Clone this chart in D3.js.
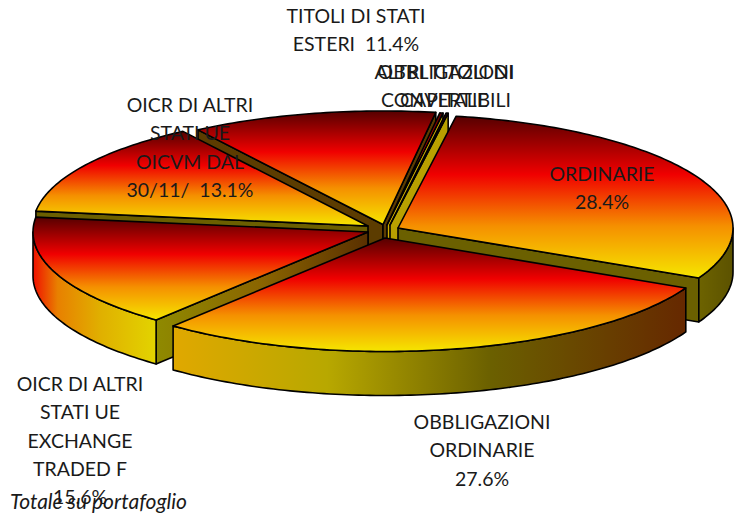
<!DOCTYPE html>
<html><head><meta charset="utf-8">
<script src="https://cdnjs.cloudflare.com/ajax/libs/d3/7.8.5/d3.min.js"></script>
<style>html,body{margin:0;background:#fff}svg{display:block}text{font-family:Lato,"Open Sans",sans-serif;fill:#1a1a1a;white-space:pre}</style>
</head><body><svg id="c" width="737" height="513"></svg>
<script>
// Data
const categories = ["AZIONI ORDINARIE","OBBLIGAZIONI ORDINARIE","OICR ETF","OICR OICVM","TITOLI DI STATI ESTERI","OBBLIGAZIONI CONVERTIBILI","ALTRI TITOLI DI CAPITALE"];
const values = [28.4,27.6,15.6,13.1,11.4,0.15,0.1];
const labelLines = [
  ["ORDINARIE","28.4%"],
  ["OBBLIGAZIONI","ORDINARIE","27.6%"],
  ["OICR DI ALTRI","STATI UE","EXCHANGE","TRADED F","15.6%"],
  ["OICR DI ALTRI","STATI UE","OICVM DAL","30/11/  13.1%"],
  ["TITOLI DI STATI","ESTERI  11.4%"],
  ["OBBLIGAZIONI","CONVERTIBILI"],
  ["ALTRI TITOLI DI","CAPITALE"]
];
const footnote = "Totale su portafoglio";

// Layout and style
const W=737,H=513,RX=335,RY=113.5,DEPTH=44,START=10;
const centres=[[398,228],[385,238],[368,232],[368,226],[383,224.5],[387,225],[390,225]];
const labelPos=[[602,176],[482,424],[80,386],[190,107],[356,18],[446,74],[444,74]];
const LINE=28.3;
const topStops=[[0,"#560000"],[.36,"#f00000"],[.68,"#f59000"],[1,"#f5e600"]];
const rimStops=[
 [[0,"#6d6300"],[1,"#5c5200"]],
 [[0,"#e0a800"],[.3,"#b8a800"],[.62,"#6b6000"],[1,"#662800"]],
 [[0,"#f01000"],[.2,"#e88000"],[.55,"#e0b000"],[1,"#e2d400"]],
 [[0,"#6b6000"],[1,"#6b6000"]],
 [[0,"#6b6000"],[1,"#6b6000"]],
 [[0,"#c8a800"],[1,"#c8a800"]],
 [[0,"#c8a800"],[1,"#c8a800"]]
];
const wallFill=["#6b6000","#6b6000","url(#wall2)","#6b5f00","#5c3c00","#cfae00","#b8a000"];
const drawOrder=[4,5,6,0,3,2,1];

const rad=d=>d*Math.PI/180;
const svg=d3.select("#c"),defs=svg.append("defs");
function grad(id,stops,horizontal){
  const g=defs.append("linearGradient").attr("id",id).attr("x1",0).attr("y1",0)
    .attr("x2",horizontal?1:0).attr("y2",horizontal?0:1);
  stops.forEach(s=>g.append("stop").attr("offset",s[0]).attr("stop-color",s[1]));
}
grad("top",topStops,false);
rimStops.forEach((s,i)=>grad("rim"+i,s,true));
grad("wall2",[[0,"#8f8a00"],[.5,"#8a6400"],[1,"#5a3000"]],true);

const pie=d3.pie().sort(null).value(d=>d).startAngle(rad(START)).endAngle(rad(START+360));
const arcs=pie(values);
const line=d3.line();
const pt=(c,a,drop=0)=>[c[0]+RX*Math.sin(a),c[1]-RY*Math.cos(a)+drop];
const arcPts=(c,a0,a1,drop=0)=>{
  const n=Math.max(2,Math.ceil(Math.abs(a1-a0)/rad(1)));
  return d3.range(n+1).map(i=>pt(c,a0+(a1-a0)*i/n,drop));
};
const pieG=svg.append("g").attr("stroke","#000").attr("stroke-width",1.6).attr("stroke-linejoin","round");

drawOrder.forEach(i=>{
  const a=arcs[i],c=centres[i],s=a.startAngle,e=a.endAngle,g=pieG.append("g");
  const wall=ang=>{
    const p=pt(c,ang);
    g.append("path").attr("fill",wallFill[i])
     .attr("d",line([c,p,[p[0],p[1]+DEPTH],[c[0],c[1]+DEPTH]])+"Z");
  };
  if(Math.sin(s)<0) wall(s);
  if(Math.sin(e)>0) wall(e);
  // outer rim: the part of the arc that faces the viewer
  const lo=Math.max(s,rad(90)),hi=Math.min(e,rad(270));
  if(hi>lo){
    g.append("path").attr("fill",`url(#rim${i})`)
     .attr("d",line(arcPts(c,lo,hi).concat(arcPts(c,hi,lo,DEPTH)))+"Z");
  }
  g.append("path").attr("fill","url(#top)")
   .attr("d",line([c].concat(arcPts(c,s,e)))+"Z");
});

const labG=svg.append("g").attr("text-anchor","middle").attr("font-size",19.5);
labelLines.forEach((lines,i)=>{
  lines.forEach((t,j)=>{
    labG.append("text").attr("x",labelPos[i][0]).attr("y",labelPos[i][1]+j*LINE)
      .attr("dominant-baseline","middle").text(t);
  });
});
svg.append("text").attr("x",10).attr("y",509).attr("font-size",21).attr("font-style","italic").text(footnote);
</script></body></html>
